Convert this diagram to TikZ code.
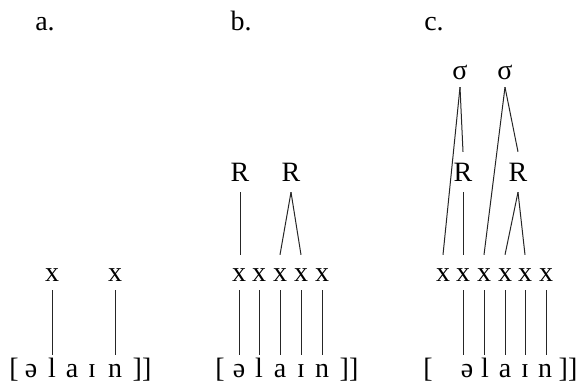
\documentclass[tikz,border=0pt]{standalone}
\usepackage{fontspec}
\setmainfont{Liberation Serif}

\tikzset{
  part/.style={anchor=base, inner sep=0pt},
  seg/.style={anchor=base, inner xsep=0pt, inner ysep=5pt, text height=18pt, text depth=0pt},
  slot/.style={anchor=base, inner xsep=0pt, inner ysep=8pt, text height=19pt, text depth=0pt},
  rime/.style={anchor=base, inner xsep=0pt, inner ysep=10pt, text height=20pt, text depth=0pt},
  syl/.style={anchor=base, inner xsep=0pt, inner ysep=7pt, text depth=0pt},
  tie/.style={line width=1pt, black!85},
}

\begin{document}
\begin{tikzpicture}[x=1pt, y=1pt, font=\fontsize{28}{32}\selectfont]
      \useasboundingbox (0,0) rectangle (583,390);

      % a. two timing slots only
      \node[part] (pa) at (45,359) {a.};
      \node[slot] (ax1) at (52,108) {x};
      \node[slot] (ax2) at (115,108) {x};
      \node[seg] (aopen) at (14,12) {[};
      \node[seg] (as1) at (31,12) {ə};
      \node[seg] (as2) at (52,12) {l};
      \node[seg] (as3) at (72,12) {a};
      \node[seg] (as4) at (92,12) {ɪ};
      \node[seg] (as5) at (115,12) {n};
      \node[seg] (aclose) at (142,12) {]]};
      \draw[tie] (ax1.south) -- (ax1.south |- as2.north);
      \draw[tie] (ax2.south) -- (ax2.south |- as5.north);

      % b. one slot per segment, rimes on top
      \node[part] (pb) at (241,359) {b.};
      \node[rime] (br1) at (240,208) {R};
      \node[rime] (br2) at (291,208) {R};
      \node[slot] (bx1) at (239,108) {x};
      \node[slot] (bx2) at (259,108) {x};
      \node[slot] (bx3) at (280,108) {x};
      \node[slot] (bx4) at (301,108) {x};
      \node[slot] (bx5) at (322,108) {x};
      \node[seg] (bopen) at (220,12) {[};
      \node[seg] (bs1) at (239,12) {ə};
      \node[seg] (bs2) at (259,12) {l};
      \node[seg] (bs3) at (280,12) {a};
      \node[seg] (bs4) at (301,12) {ɪ};
      \node[seg] (bs5) at (322,12) {n};
      \node[seg] (bclose) at (349,12) {]]};
      \draw[tie] (br1.south) -- (br1.south |- bx1.north);
      \draw[tie] (br2.south) -- (bx3.north);
      \draw[tie] (br2.south) -- (bx4.north);
      \draw[tie] (bx1.south) -- (bx1.south |- bs1.north);
      \draw[tie] (bx2.south) -- (bx2.south |- bs2.north);
      \draw[tie] (bx3.south) -- (bx3.south |- bs3.north);
      \draw[tie] (bx4.south) -- (bx4.south |- bs4.north);
      \draw[tie] (bx5.south) -- (bx5.south |- bs5.north);

      % c. syllables with an empty first slot
      \node[part] (pc) at (434,359) {c.};
      \node[syl] (cs1) at (460,310) {σ};
      \node[syl] (cs2) at (505,310) {σ};
      \node[rime] (cr1) at (463,208) {R};
      \node[rime] (cr2) at (518,208) {R};
      \node[slot] (cx1) at (443,108) {x};
      \node[slot] (cx2) at (463,108) {x};
      \node[slot] (cx3) at (484,108) {x};
      \node[slot] (cx4) at (505,108) {x};
      \node[slot] (cx5) at (525,108) {x};
      \node[slot] (cx6) at (546,108) {x};
      \node[seg] (copen) at (428,12) {[};
      \node[seg] (cg1) at (467,12) {ə};
      \node[seg] (cg2) at (485,12) {l};
      \node[seg] (cg3) at (505,12) {a};
      \node[seg] (cg4) at (525,12) {ɪ};
      \node[seg] (cg5) at (545,12) {n};
      \node[seg] (cclose) at (568,12) {]]};
      \draw[tie] (cs1.south) -- (cx1.north);
      \draw[tie] (cs1.south) -- (cr1.north);
      \draw[tie] (cs2.south) -- (cx3.north);
      \draw[tie] (cs2.south) -- (cr2.north);
      \draw[tie] (cr1.south) -- (cr1.south |- cx2.north);
      \draw[tie] (cr2.south) -- (cx4.north);
      \draw[tie] (cr2.south) -- (cx5.north);
      \draw[tie] (cx2.south) -- (cx2.south |- cg1.north);
      \draw[tie] (cx3.south) -- (cx3.south |- cg2.north);
      \draw[tie] (cx4.south) -- (cx4.south |- cg3.north);
      \draw[tie] (cx5.south) -- (cx5.south |- cg4.north);
      \draw[tie] (cx6.south) -- (cx6.south |- cg5.north);
\end{tikzpicture}
\end{document}
